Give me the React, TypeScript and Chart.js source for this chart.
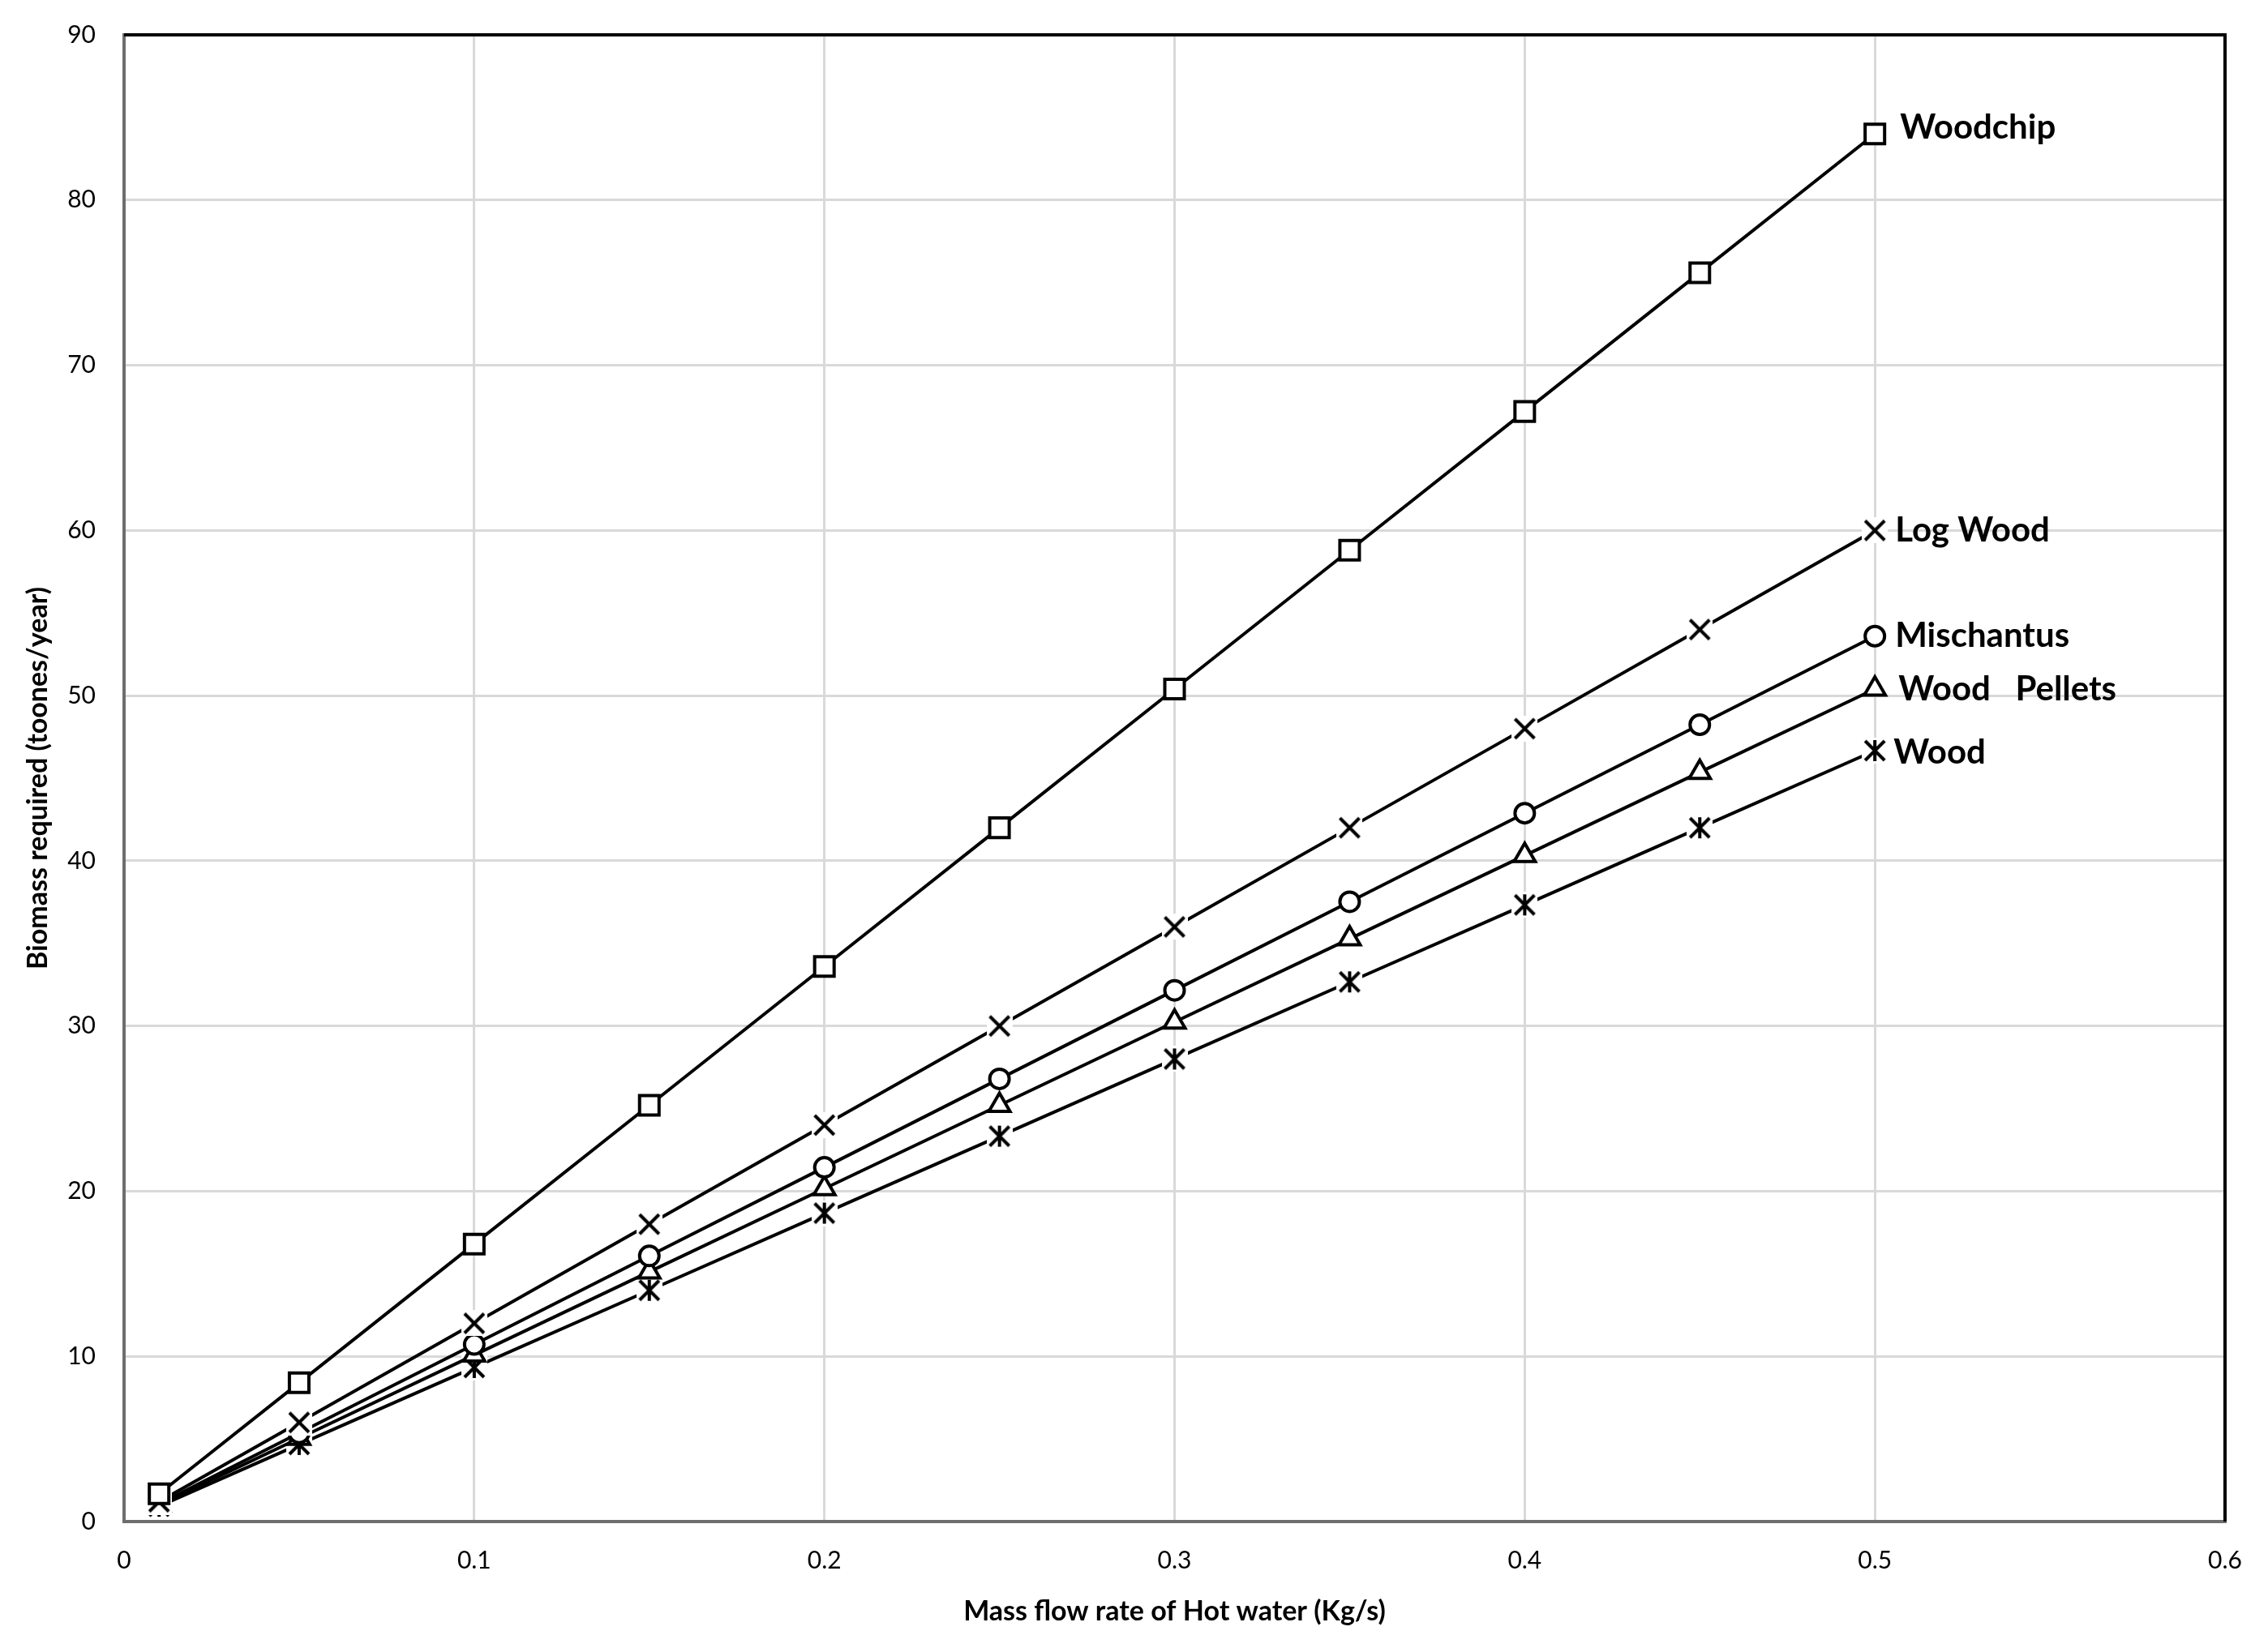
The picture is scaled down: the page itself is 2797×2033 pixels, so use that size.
import React, { useEffect, useRef } from "react";
import { Chart, registerables } from "chart.js";

Chart.register(...registerables);

// ---- Data ----
const flowRates = [0.01, 0.05, 0.1, 0.15, 0.2, 0.25, 0.3, 0.35, 0.4, 0.45, 0.5];
const woodchip = [1.68, 8.4, 16.8, 25.2, 33.6, 42.0, 50.4, 58.8, 67.2, 75.6, 84.0];
const logWood = [1.2, 6.0, 12.0, 18.0, 24.0, 30.0, 36.0, 42.0, 48.0, 54.0, 60.0];
const mischantus = [1.07, 5.36, 10.72, 16.08, 21.44, 26.8, 32.16, 37.52, 42.88, 48.24, 53.6];
const woodPellets = [1.01, 5.04, 10.08, 15.12, 20.16, 25.2, 30.24, 35.28, 40.32, 45.36, 50.4];
const wood = [0.93, 4.67, 9.33, 14.0, 18.67, 23.33, 28.0, 32.67, 37.33, 42.0, 46.67];
const seriesNames = ["Woodchip", "Log Wood", "Mischantus", "Wood   Pellets", "Wood"];
const xTitle = "Mass flow rate of Hot water (Kg/s)";
const yTitle = "Biomass required (toones/year)";

const W = 2797;
const H = 2033;
const FONT = "Lato, 'Open Sans', sans-serif";

function makeMarker(kind: "x" | "star"): HTMLCanvasElement {
  const c = document.createElement("canvas");
  const s = 32;
  c.width = s;
  c.height = s;
  const g = c.getContext("2d")!;
  g.fillStyle = "#ffffff";
  g.fillRect(0, 0, s, s);
  g.strokeStyle = "#000000";
  g.lineWidth = 4;
  g.lineCap = "butt";
  const a = 4;
  const b = s - 4;
  g.beginPath();
  g.moveTo(a, a);
  g.lineTo(b, b);
  g.moveTo(b, a);
  g.lineTo(a, b);
  if (kind === "star") {
    g.moveTo(s / 2, a - 1);
    g.lineTo(s / 2, b + 1);
  }
  g.stroke();
  return c;
}

export default function App() {
  const ref = useRef<HTMLCanvasElement | null>(null);

  useEffect(() => {
    if (!ref.current) return;
    const xMarker = makeMarker("x");
    const starMarker = makeMarker("star");

    const toXY = (ys: number[]) => ys.map((y, i) => ({ x: flowRates[i], y }));

    const labelDx = [31, 25, 25, 29, 23];
    const labelDy = [-8, 0, 0, 0, 2];

    const framePlugin = {
      id: "frame",
      beforeDatasetsDraw(chart: any) {
        const { ctx, chartArea } = chart;
        ctx.save();
        ctx.strokeStyle = "#000000";
        ctx.lineWidth = 4;
        ctx.beginPath();
        ctx.moveTo(chartArea.left, chartArea.top);
        ctx.lineTo(chartArea.right, chartArea.top);
        ctx.lineTo(chartArea.right, chartArea.bottom);
        ctx.stroke();
        ctx.restore();
      },
    };

    const labelPlugin = {
      id: "endLabels",
      afterDatasetsDraw(chart: any) {
        const ctx = chart.ctx;
        ctx.save();
        ctx.font = `bold 42px ${FONT}`;
        ctx.fillStyle = "#000000";
        ctx.textBaseline = "middle";
        ctx.textAlign = "left";
        chart.data.datasets.forEach((_ds: any, i: number) => {
          const meta = chart.getDatasetMeta(i);
          const pt = meta.data[meta.data.length - 1];
          ctx.fillText(seriesNames[i], pt.x + labelDx[i], pt.y + labelDy[i]);
        });
        ctx.restore();
      },
    };

    const common = {
      borderColor: "#000000",
      borderWidth: 4,
      pointBorderColor: "#000000",
      pointBackgroundColor: "#ffffff",
      pointBorderWidth: 4,
      tension: 0,
      fill: false,
    };

    const chart = new Chart(ref.current, {
      type: "line",
      data: {
        datasets: [
          { ...common, label: seriesNames[0], data: toXY(woodchip), pointStyle: "rect", pointRadius: 17 },
          { ...common, label: seriesNames[1], data: toXY(logWood), pointStyle: xMarker as any, pointRadius: 16 },
          { ...common, label: seriesNames[2], data: toXY(mischantus), pointStyle: "circle", pointRadius: 12 },
          { ...common, label: seriesNames[3], data: toXY(woodPellets), pointStyle: "triangle", pointRadius: 15 },
          { ...common, label: seriesNames[4], data: toXY(wood), pointStyle: starMarker as any, pointRadius: 16 },
        ],
      },
      options: {
        animation: false,
        responsive: false,
        devicePixelRatio: 1,
        layout: { padding: { top: 43, right: 53, left: 0, bottom: 0 } },
        plugins: {
          legend: { display: false },
          tooltip: { enabled: false },
        },
        scales: {
          x: {
            type: "linear",
            min: 0,
            max: 0.6,
            afterFit: (scale: any) => {
              scale.height = 156;
              scale.paddingLeft = 0;
              scale.paddingRight = 0;
            },
            ticks: {
              stepSize: 0.1,
              padding: 30,
              color: "#000000",
              font: { family: FONT, size: 30 },
              callback: (v: any) => String(Math.round(Number(v) * 10) / 10),
            },
            grid: { color: "#d9d9d9", lineWidth: 3, drawTicks: false },
            border: { display: true, color: "#6e6e6e", width: 4 },
            title: {
              display: true,
              text: xTitle,
              color: "#000000",
              font: { family: FONT, size: 34, weight: "bold" },
              padding: { top: 0, bottom: 25 },
            },
          },
          y: {
            type: "linear",
            min: 0,
            max: 90,
            afterFit: (scale: any) => {
              scale.width = 153;
              scale.paddingTop = 0;
              scale.paddingBottom = 0;
            },
            ticks: {
              stepSize: 10,
              padding: 35,
              color: "#000000",
              font: { family: FONT, size: 30 },
            },
            grid: { color: "#d9d9d9", lineWidth: 3, drawTicks: false },
            border: { display: true, color: "#6e6e6e", width: 4 },
            title: {
              display: true,
              text: yTitle,
              color: "#000000",
              font: { family: FONT, size: 34, weight: "bold" },
              padding: { top: 27, bottom: 0 },
            },
          },
        },
      },
      plugins: [framePlugin, labelPlugin],
    });

    return () => chart.destroy();
  }, []);

  return (
    <div style={{ position: "fixed", left: 0, top: 0, width: W, height: H, background: "#ffffff" }}>
      <canvas ref={ref} width={W} height={H} style={{ width: W, height: H, display: "block" }} />
    </div>
  );
}
